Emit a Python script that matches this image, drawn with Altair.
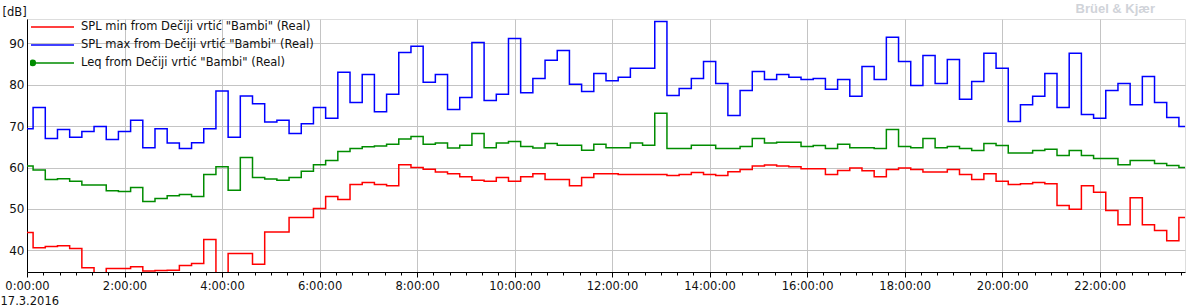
import altair as alt
import pandas as pd

# 15-minute samples, 17.3.2016, 0:00 .. 23:45
minutes = [i * 15 for i in range(96)]

spl_min = [44.3, 40.6, 40.9, 41.1, 40.4, 35.8, 33.0, 35.6, 35.6, 36.0, 35.0, 35.1, 35.2, 36.3, 36.8, 42.6,
           33.0, 39.2, 39.2, 36.6, 44.4, 44.4, 47.9, 47.9, 50.1, 53.0, 52.3, 55.9, 56.4, 55.9, 55.6, 60.7,
           60.0, 59.6, 58.9, 58.5, 57.8, 56.9, 56.7, 57.6, 56.7, 57.8, 58.5, 57.1, 57.1, 55.6, 57.6, 58.5,
           58.5, 58.3, 58.3, 58.3, 58.3, 58.1, 58.3, 58.8, 58.3, 58.1, 59.0, 59.5, 60.4, 60.6, 60.4, 60.2,
           59.7, 59.7, 58.3, 59.3, 59.9, 59.2, 57.8, 59.5, 59.9, 59.5, 58.9, 58.9, 59.5, 58.3, 57.1, 58.5,
           56.7, 55.9, 56.1, 56.4, 56.1, 50.8, 49.9, 55.6, 54.0, 49.6, 46.2, 52.7, 46.2, 44.8, 42.3, 47.9]

spl_max = [69.4, 74.5, 67.0, 69.2, 67.3, 68.7, 69.9, 66.8, 68.7, 71.4, 64.8, 69.4, 65.9, 64.6, 66.0, 69.4,
           78.5, 67.3, 77.3, 75.4, 71.0, 71.4, 68.2, 70.6, 74.5, 71.9, 83.0, 75.7, 82.5, 73.5, 77.7, 87.8,
           89.3, 80.6, 82.5, 74.0, 76.9, 90.2, 76.2, 77.7, 91.2, 78.1, 81.5, 85.9, 88.3, 80.1, 78.4, 82.7,
           81.0, 81.8, 84.0, 84.0, 95.3, 77.4, 79.1, 81.5, 85.6, 80.3, 72.6, 78.6, 83.2, 81.3, 82.5, 81.8,
           81.3, 81.5, 78.9, 81.3, 77.2, 84.4, 81.3, 91.5, 85.6, 79.8, 87.1, 80.3, 86.1, 76.5, 80.8, 87.6,
           84.0, 71.1, 75.2, 77.2, 82.7, 74.5, 87.6, 72.8, 71.9, 78.6, 80.3, 75.2, 82.0, 75.7, 72.1, 69.9]

leq = [60.4, 59.4, 57.1, 57.3, 56.7, 55.8, 55.8, 54.4, 54.2, 55.2, 51.8, 52.5, 53.2, 53.5, 53.0, 58.3,
       60.2, 54.5, 62.4, 57.6, 57.2, 56.9, 57.6, 59.1, 60.7, 61.7, 63.9, 64.6, 65.0, 65.2, 65.6, 66.9,
       67.5, 65.6, 65.9, 64.7, 65.4, 68.2, 64.8, 65.9, 66.3, 65.1, 64.7, 65.8, 65.4, 65.4, 64.2, 65.6,
       64.8, 64.8, 65.9, 65.4, 73.1, 64.6, 64.6, 65.4, 65.4, 64.6, 64.6, 65.1, 67.0, 65.9, 66.1, 66.1,
       65.1, 65.3, 64.6, 65.6, 64.8, 64.8, 64.6, 69.2, 65.1, 64.8, 67.0, 64.8, 65.1, 64.6, 64.1, 65.8,
       65.3, 63.5, 63.5, 64.1, 64.4, 62.9, 64.1, 62.9, 62.2, 62.2, 60.7, 61.7, 61.7, 61.0, 60.5, 60.0]

series_names = ['SPL min from Dečiji vrtić "Bambi" (Real)',
                'SPL max from Dečiji vrtić "Bambi" (Real)',
                'Leq from Dečiji vrtić "Bambi" (Real)']
series_colors = ["#ff0000", "#0000ff", "#008c00"]

y_ticks = [40, 50, 60, 70, 80, 90]
x_ticks = list(range(0, 1425, 20))  # every 20 min, labels each 2 h

rows = []
for name, vals in zip(series_names, [spl_min, spl_max, leq]):
    for m, v in zip(minutes, vals):
        rows.append({"minute": m, "value": v, "series": name})
df = pd.DataFrame(rows)

FONT = "DejaVu Sans"
TXT = "#111111"
GRID = "#c4c4c4"

dot_path = ("M-1,0H1M-1.04,0a0.12,0.12 0 1,0 0.24,0"
            "a0.12,0.12 0 1,0 -0.24,0")
shape_expr = "indexof(datum.value, 'Leq') === 0 ? '" + dot_path + "' : 'stroke'"

chart = alt.Chart(df).mark_line(interpolate="step", strokeWidth=1.5, clip=True).encode(
    x=alt.X("minute:Q",
            scale=alt.Scale(domain=[0, 1425], nice=False, zero=False),
            axis=alt.Axis(values=x_ticks,
                          labelExpr="datum.value % 120 === 0 ? floor(datum.value / 60) + ':00:00' : ''",
                          labelOverlap=False, labelFlush=False,
                          tickSize={"condition": {"test": "datum.value % 120 === 0", "value": 5}, "value": 3},
                          gridOpacity={"condition": {"test": "datum.value % 120 === 0", "value": 1}, "value": 0},
                          grid=True, gridColor=GRID, gridWidth=1,
                          domainColor="#000000", tickColor="#000000",
                          labelFont=FONT, labelFontSize=11.5, labelColor=TXT, labelPadding=3,
                          title="17.3.2016", titleFont=FONT, titleFontSize=11.5,
                          titleFontWeight="normal", titleColor=TXT,
                          titleX=-27, titleY=29, titleAlign="left", titleBaseline="middle",
                          titleAngle=0)),
    y=alt.Y("value:Q",
            scale=alt.Scale(domain=[34.75, 95.9], nice=False, zero=False),
            axis=alt.Axis(values=y_ticks, ticks=False, grid=True, gridColor=GRID,
                          domainColor="#000000", labelFlush=False,
                          labelFont=FONT, labelFontSize=12, labelColor=TXT, labelPadding=3,
                          title="[dB]", titleFont=FONT, titleFontSize=11.5,
                          titleFontWeight="normal", titleColor=TXT,
                          titleX=-25, titleY=-7, titleAngle=0, titleAlign="left",
                          titleBaseline="middle")),
    color=alt.Color("series:N",
                    scale=alt.Scale(domain=series_names, range=series_colors),
                    sort=series_names,
                    legend=alt.Legend(title=None, orient="none", legendX=3, legendY=0,
                                      padding=0, symbolType={"expr": shape_expr},
                                      symbolSize=1849, symbolFillColor="#008c00",
                                      symbolStrokeWidth=1.5, clipHeight=15.8, rowPadding=2,
                                      labelOffset=6, labelFont=FONT, labelFontSize=11.5,
                                      labelColor=TXT, labelLimit=400)),
).properties(
    width=1158, height=253,
    autosize=alt.AutoSizeParams(type="none"),
    padding={"left": 27, "top": 19, "right": 6, "bottom": 35},
    title=alt.TitleParams("Brüel & Kjær", anchor="end", frame="group",
                          font="Liberation Sans", fontSize=13, fontWeight="bold",
                          color="#d0d3d9", baseline="alphabetic", offset=4, dx=-30, dy=24),
).configure_view(stroke=None).configure(background="white")

chart.save("out.html", embed_options={"renderer": "svg", "actions": False})
